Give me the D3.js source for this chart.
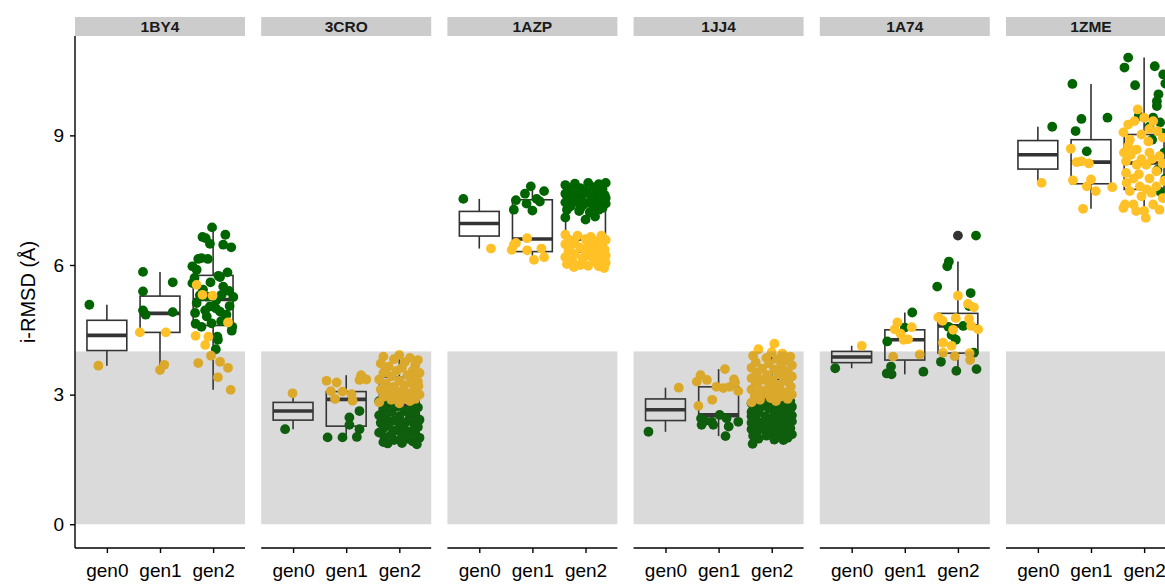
<!DOCTYPE html>
<html>
<head>
<meta charset="utf-8">
<script src="https://cdn.jsdelivr.net/npm/d3@7"></script>
<style>
  html, body { margin: 0; padding: 0; background: #ffffff; }
  svg { display: block; font-family: "Liberation Sans", Arial, Helvetica, sans-serif; }
</style>
</head>
<body>
<svg id="chart" width="1165" height="585"></svg>
<script>
// ---- data ---------------------------------------------------------------
const panels = ["1BY4", "3CRO", "1AZP", "1JJ4", "1A74", "1ZME"];
const generations = ["gen0", "gen1", "gen2"];
const yTicks = [0, 3, 6, 9];
const successCutoff = 4;   // i-RMSD below this is shaded

// box summaries per generation: [lower whisker, q1, median, q3, upper whisker]
const box1BY4 = [[3.67, 4.02, 4.37, 4.72, 5.08], [3.57, 4.44, 4.88, 5.28, 5.84], [3.11, 4.60, 5.20, 5.76, 6.87]];
const box3CRO = [[2.20, 2.41, 2.62, 2.82, 3.03], [2.01, 2.27, 2.89, 3.07, 3.45], [1.85, 2.35, 2.75, 3.40, 3.92]];
const box1AZP = [[6.38, 6.67, 6.96, 7.24, 7.53], [6.12, 6.31, 6.60, 7.51, 7.82], [5.93, 6.30, 6.60, 7.65, 7.90]];
const box1JJ4 = [[2.14, 2.40, 2.65, 2.90, 3.16], [2.04, 2.49, 2.53, 3.18, 3.59], [1.86, 2.35, 2.75, 3.35, 4.18]];
const box1A74 = [[3.61, 3.74, 3.87, 4.00, 4.13], [3.47, 3.80, 4.27, 4.50, 4.90], [3.55, 3.96, 4.59, 4.88, 6.08]];
const box1ZME = [[7.90, 8.22, 8.55, 8.88, 9.20], [7.30, 7.88, 8.38, 8.90, 10.19], [7.09, 7.75, 8.36, 9.02, 10.80]];

// box-plot outliers: [generation index, value]
const out1BY4 = [];
const out3CRO = [];
const out1AZP = [];
const out1JJ4 = [];
const out1A74 = [[2, 6.68]];
const out1ZME = [];

// individual runs per generation: [horizontal jitter (fraction of a step), i-RMSD]
const green1BY4 = [
  [[-0.33, 5.08]],
  [[-0.32, 5.84], [-0.32, 5.39], [0.24, 5.60], [-0.32, 4.95], [-0.27, 4.85], [0.24, 4.91]],
  [[-0.02, 6.87], [-0.20, 6.65], [-0.14, 6.62], [-0.06, 6.49], [0.23, 6.70], [0.19, 6.47], [0.34, 6.41],
   [-0.28, 6.14], [-0.22, 6.16], [-0.10, 6.14], [-0.39, 5.97], [-0.31, 5.89], [0.27, 5.83], [0.13, 5.72],
   [-0.39, 5.58], [0.19, 5.50], [-0.19, 5.43], [0.38, 5.26], [0.06, 5.19], [-0.31, 5.12], [-0.06, 5.04],
   [0.31, 5.05], [0.13, 4.92], [-0.34, 4.89], [-0.12, 4.81], [0.22, 4.73], [-0.33, 4.64], [-0.22, 4.57],
   [-0.03, 4.65], [0.36, 4.57], [0.35, 4.48], [0.08, 4.34], [0.09, 4.27], [0.05, 4.05], [0.16, 5.31],
   [-0.12, 5.27], [0.10, 5.75], [-0.05, 5.60], [0.30, 5.40], [-0.25, 5.30], [0.05, 5.00], [0.25, 4.85],
   [-0.15, 4.95], [0.15, 4.70], [-0.35, 5.70]]
];
const gold1BY4 = [
  [[-0.16, 3.67]],
  [[-0.38, 4.44], [0.11, 4.44], [0.08, 3.69], [0.00, 3.57]],
  [[-0.31, 5.54], [-0.20, 5.31], [-0.01, 5.29], [0.28, 4.67], [-0.33, 4.36], [-0.09, 4.34], [-0.15, 4.15],
   [-0.04, 3.90], [-0.28, 3.73], [0.13, 3.76], [0.28, 3.62], [0.09, 3.40], [0.33, 3.11]]
];

const green3CRO = [
  [[-0.15, 2.20]],
  [[0.25, 2.62], [0.06, 2.47], [0.06, 2.30], [0.25, 2.20], [0.20, 2.02], [-0.35, 2.01], [-0.07, 2.01]],
  [[-0.38, 2.85], [-0.20, 2.80], [0.25, 2.75], [-0.05, 2.72], [0.35, 2.70], [-0.30, 2.65], [0.10, 2.62],
   [-0.15, 2.60], [0.30, 2.55], [-0.38, 2.52], [0.00, 2.50], [0.20, 2.48], [-0.25, 2.45], [0.38, 2.42],
   [-0.10, 2.40], [0.15, 2.38], [-0.35, 2.35], [0.28, 2.32], [0.05, 2.30], [-0.20, 2.28], [0.35, 2.25],
   [-0.30, 2.22], [0.10, 2.20], [-0.05, 2.18], [0.22, 2.15], [-0.38, 2.12], [0.30, 2.10], [-0.15, 2.08],
   [0.05, 2.05], [-0.28, 2.02], [0.38, 2.00], [0.15, 1.98], [-0.10, 1.95], [0.25, 1.92], [-0.30, 1.90],
   [0.05, 1.88], [0.33, 1.85], [-0.22, 1.87], [0.00, 2.35], [0.20, 2.60]]
];
const gold3CRO = [
  [[-0.01, 3.03]],
  [[-0.37, 3.32], [-0.18, 3.28], [-0.29, 3.08], [-0.07, 3.07], [-0.21, 2.90], [0.10, 3.01], [0.12, 2.86],
   [0.28, 3.45], [0.25, 3.34], [0.38, 3.35]],
  [[-0.30, 3.88], [0.00, 3.92], [0.20, 3.85], [-0.10, 3.82], [0.35, 3.80], [-0.35, 3.72], [0.10, 3.75],
   [0.30, 3.68], [-0.20, 3.65], [0.05, 3.62], [-0.05, 3.55], [0.25, 3.55], [0.38, 3.50], [-0.30, 3.50],
   [0.15, 3.45], [-0.15, 3.42], [0.32, 3.38], [-0.38, 3.35], [0.00, 3.32], [0.22, 3.28], [-0.25, 3.25],
   [0.10, 3.22], [0.36, 3.20], [-0.10, 3.18], [-0.35, 3.12], [0.28, 3.12], [0.05, 3.08], [-0.20, 3.05],
   [0.18, 3.02], [0.38, 3.00], [-0.05, 2.98], [-0.30, 2.95], [0.10, 2.92], [0.30, 2.90], [-0.15, 2.88],
   [0.20, 2.85], [-0.38, 2.82], [0.00, 2.80], [0.35, 3.30], [-0.25, 3.60]]
];

const green1AZP = [
  [[-0.30, 7.53]],
  [[-0.03, 7.82], [0.22, 7.71], [-0.14, 7.65], [-0.31, 7.50], [0.08, 7.53], [-0.11, 7.42], [-0.35, 7.28],
   [0.00, 7.26], [0.14, 7.47]],
  [[-0.38, 7.85], [-0.20, 7.88], [0.05, 7.90], [0.25, 7.87], [0.38, 7.90], [-0.30, 7.75], [-0.10, 7.78],
   [0.15, 7.80], [0.32, 7.76], [-0.38, 7.65], [-0.22, 7.68], [0.00, 7.70], [0.20, 7.66], [0.36, 7.62],
   [-0.30, 7.55], [-0.08, 7.58], [0.12, 7.55], [0.28, 7.52], [-0.38, 7.45], [-0.18, 7.47], [0.05, 7.44],
   [0.22, 7.46], [0.38, 7.42], [-0.28, 7.36], [-0.05, 7.38], [0.15, 7.35], [0.32, 7.32], [-0.35, 7.28],
   [-0.12, 7.25], [0.08, 7.22], [0.25, 7.28], [-0.38, 7.10], [0.18, 7.12], [-0.20, 7.50], [0.10, 7.60],
   [0.30, 7.70], [-0.10, 7.30], [0.38, 7.55], [0.00, 7.05]]
];
const gold1AZP = [
  [[0.22, 6.38]],
  [[-0.10, 6.62], [-0.31, 6.51], [-0.39, 6.35], [-0.10, 6.34], [0.17, 6.38], [0.03, 6.12], [0.22, 6.18],
   [-0.35, 6.47]],
  [[-0.38, 6.70], [-0.15, 6.68], [0.10, 6.65], [0.30, 6.68], [-0.30, 6.58], [0.00, 6.60], [0.20, 6.55],
   [0.38, 6.58], [-0.38, 6.48], [-0.20, 6.50], [0.05, 6.45], [0.28, 6.47], [-0.10, 6.40], [0.15, 6.38],
   [0.36, 6.36], [-0.32, 6.33], [0.00, 6.30], [0.22, 6.28], [-0.20, 6.25], [0.38, 6.22], [-0.38, 6.18],
   [0.10, 6.20], [-0.05, 6.15], [0.30, 6.12], [-0.25, 6.10], [0.18, 6.08], [0.38, 6.05], [-0.35, 6.02],
   [-0.10, 6.00], [0.05, 5.98], [0.25, 5.97], [-0.22, 5.95], [0.35, 5.93], [0.12, 6.30], [-0.30, 6.40]]
];

const green1JJ4 = [
  [[-0.32, 2.14]],
  [[-0.33, 2.45], [-0.26, 2.39], [-0.10, 2.30], [0.02, 2.53], [0.15, 2.45], [0.19, 2.26], [0.37, 2.37],
   [-0.32, 2.30], [0.13, 2.04], [-0.13, 2.37]],
  [[-0.30, 2.90], [-0.10, 2.88], [0.10, 2.85], [0.30, 2.82], [-0.38, 2.80], [0.00, 2.78], [0.20, 2.75],
   [0.38, 2.72], [-0.20, 2.72], [-0.35, 2.65], [-0.05, 2.68], [0.12, 2.65], [0.30, 2.62], [-0.25, 2.58],
   [0.05, 2.58], [0.22, 2.55], [0.38, 2.52], [-0.38, 2.50], [-0.12, 2.50], [0.10, 2.48], [0.30, 2.45],
   [-0.30, 2.42], [-0.02, 2.42], [0.18, 2.40], [0.38, 2.38], [-0.38, 2.35], [-0.18, 2.35], [0.05, 2.32],
   [0.25, 2.30], [-0.30, 2.28], [-0.08, 2.27], [0.15, 2.25], [0.35, 2.22], [-0.38, 2.20], [-0.15, 2.20],
   [0.05, 2.18], [0.28, 2.15], [-0.28, 2.12], [0.00, 2.12], [0.18, 2.10], [0.38, 2.08], [-0.35, 2.05],
   [-0.10, 2.05], [0.10, 2.02], [0.30, 2.00], [-0.25, 1.98], [0.05, 1.96], [0.22, 1.95], [-0.38, 2.60],
   [0.35, 2.85], [-0.05, 2.22], [-0.36, 1.86]]
];
const gold1JJ4 = [
  [[0.25, 3.16]],
  [[0.12, 3.59], [-0.34, 3.45], [-0.41, 3.30], [-0.22, 3.34], [0.29, 3.35], [-0.04, 3.18], [0.09, 3.15],
   [0.21, 3.18], [0.37, 3.08], [0.31, 3.28], [-0.12, 2.88], [-0.38, 2.74]],
  [[0.05, 4.18], [-0.25, 4.05], [0.00, 3.98], [0.20, 3.95], [-0.35, 3.90], [0.35, 3.88], [-0.10, 3.85],
   [0.10, 3.82], [0.28, 3.80], [-0.30, 3.75], [-0.05, 3.72], [0.18, 3.70], [0.38, 3.68], [-0.38, 3.62],
   [-0.18, 3.60], [0.05, 3.58], [0.30, 3.55], [-0.28, 3.50], [0.12, 3.48], [-0.08, 3.45], [0.38, 3.42],
   [0.22, 3.40], [-0.38, 3.38], [-0.15, 3.35], [0.02, 3.32], [0.30, 3.30], [-0.30, 3.25], [0.15, 3.22],
   [-0.05, 3.20], [0.36, 3.18], [-0.38, 3.12], [-0.20, 3.10], [0.08, 3.08], [0.25, 3.05], [-0.10, 3.02],
   [0.38, 3.00], [-0.32, 2.98], [0.15, 2.95], [-0.02, 2.92], [0.30, 2.90], [-0.22, 2.88], [0.08, 2.85],
   [-0.38, 2.82], [0.20, 3.60], [-0.25, 3.30], [0.00, 3.15]]
];

const green1A74 = [
  [[-0.31, 3.61]],
  [[0.14, 4.90], [0.00, 4.55], [-0.33, 4.23], [-0.26, 3.65], [-0.34, 3.49], [-0.25, 3.47], [0.35, 3.53]],
  [[0.34, 6.68], [-0.17, 6.08], [-0.20, 5.97], [-0.39, 5.50], [0.24, 5.35], [0.21, 5.05], [0.10, 4.59],
   [-0.12, 4.38], [-0.04, 4.27], [-0.18, 4.57], [0.30, 3.97], [-0.32, 3.76], [-0.03, 3.55], [0.35, 3.59]]
];
const gold1A74 = [
  [[0.19, 4.13]],
  [[-0.14, 4.67], [0.13, 4.56], [-0.19, 4.51], [-0.08, 4.41], [-0.02, 4.27], [0.06, 4.28], [-0.22, 3.88],
   [0.28, 3.93]],
  [[0.00, 5.29], [0.19, 5.10], [0.30, 5.02], [-0.37, 4.79], [-0.29, 4.71], [-0.04, 4.77], [0.21, 4.75],
   [0.25, 4.59], [0.38, 4.51], [-0.09, 4.50], [-0.28, 4.20], [-0.12, 4.13], [-0.28, 3.97], [-0.06, 3.89],
   [0.22, 3.96], [0.23, 3.80]]
];

const green1ZME = [
  [[0.27, 9.20]],
  [[-0.35, 10.19], [-0.18, 9.38], [0.31, 9.41], [-0.29, 9.10], [-0.08, 8.63]],
  [[-0.30, 10.80], [-0.37, 10.57], [0.36, 10.41], [-0.17, 10.16], [0.27, 9.95], [0.24, 9.79], [0.24, 9.68],
   [0.17, 9.41], [0.30, 9.30], [0.10, 9.20], [0.35, 9.05], [-0.10, 9.45], [0.20, 10.60], [0.40, 10.20],
   [0.15, 8.90], [0.38, 8.60], [0.25, 8.20], [0.40, 8.00], [0.30, 7.70]]
];
const gold1ZME = [
  [[0.07, 7.90]],
  [[-0.38, 8.69], [-0.27, 8.38], [-0.18, 8.40], [-0.04, 8.35], [-0.34, 7.96], [0.00, 7.98], [-0.08, 7.82],
   [0.09, 7.71], [0.40, 7.80], [-0.15, 7.30]],
  [[-0.12, 9.60], [-0.18, 9.33], [0.00, 9.41], [0.17, 9.33], [-0.39, 9.07], [-0.05, 9.02], [-0.27, 8.90],
   [0.08, 8.86], [-0.14, 8.67], [-0.34, 8.40], [-0.14, 8.32], [0.04, 8.32], [-0.34, 8.13], [0.23, 8.17],
   [-0.33, 7.90], [-0.08, 7.82], [-0.27, 7.71], [0.14, 7.67], [-0.05, 7.59], [-0.36, 7.40], [-0.20, 7.40],
   [0.17, 7.40], [-0.39, 7.32], [0.03, 7.09], [0.29, 7.28], [0.29, 8.52], [0.23, 7.82], [-0.25, 8.55],
   [0.10, 8.60], [-0.30, 8.75], [0.35, 8.95], [0.10, 9.15], [-0.10, 8.10], [0.10, 8.00], [-0.20, 8.00],
   [0.35, 7.55], [-0.15, 7.25], [0.05, 7.75], [0.25, 9.10], [-0.30, 9.25], [0.35, 8.35], [0.15, 8.45],
   [-0.05, 8.45], [0.38, 7.95], [0.00, 7.25], [-0.38, 8.60]]
];

// ---- assemble per-panel records ----------------------------------------
const boxes = [box1BY4, box3CRO, box1AZP, box1JJ4, box1A74, box1ZME];
const outliers = [out1BY4, out3CRO, out1AZP, out1JJ4, out1A74, out1ZME];
const greens = [green1BY4, green3CRO, green1AZP, green1JJ4, green1A74, green1ZME];
const golds = [gold1BY4, gold3CRO, gold1AZP, gold1JJ4, gold1A74, gold1ZME];

const facetRows = panels.map((id, i) => ({
  id,
  boxes: boxes[i].map((s, g) => ({ gen: generations[g], lo: s[0], q1: s[1], med: s[2], q3: s[3], hi: s[4] })),
  outliers: outliers[i].map(([g, v]) => ({ gen: generations[g], v })),
  points: [
    ...greens[i].flatMap((arr, g) => arr.map(([j, v]) => ({ gen: generations[g], j, v, fill: "#006400" }))),
    ...golds[i].flatMap((arr, g) => arr.map(([j, v]) => ({ gen: generations[g], j, v, fill: "#FFC125" })))
  ]
}));

// ---- layout ---------------------------------------------------------------
const svg = d3.select("#chart");
const plotTop = 36, plotBottom = 548, stripTop = 17;
const panelWidth = 170, panelGap = 16.2;

const fx = d3.scaleBand()
  .domain(panels)
  .range([75, 75 + panels.length * panelWidth + (panels.length - 1) * panelGap])
  .paddingInner(panelGap / (panelWidth + panelGap))
  .paddingOuter(0);

const y = d3.scaleLinear().domain([-0.55, 11.3]).range([plotBottom, plotTop]);

const x = d3.scalePoint().domain(generations).range([0, fx.bandwidth()]).padding(0.6);
const step = x.step();
const boxW = step * 0.75;
const pointR = 4.9;
const lineCol = "#333333";
const tickFont = 19;

const facets = svg.selectAll("g.facet")
  .data(facetRows)
  .join("g")
  .attr("class", "facet")
  .attr("transform", d => `translate(${fx(d.id)},0)`);

// strip header
facets.append("rect")
  .attr("x", 0).attr("y", stripTop)
  .attr("width", fx.bandwidth()).attr("height", plotTop - stripTop)
  .attr("fill", "#cccccc");
facets.append("text")
  .attr("x", fx.bandwidth() / 2).attr("y", (stripTop + plotTop) / 2)
  .attr("dy", "0.36em")
  .attr("text-anchor", "middle")
  .attr("font-size", 15.5).attr("font-weight", "bold").attr("fill", "#1a1a1a")
  .text(d => d.id);

// box plots
const boxG = facets.selectAll("g.box")
  .data(d => d.boxes)
  .join("g")
  .attr("class", "box")
  .attr("transform", d => `translate(${x(d.gen)},0)`);

boxG.append("line")
  .attr("x1", 0).attr("x2", 0)
  .attr("y1", d => y(d.q3)).attr("y2", d => y(d.hi))
  .attr("stroke", lineCol).attr("stroke-width", 1.6);
boxG.append("line")
  .attr("x1", 0).attr("x2", 0)
  .attr("y1", d => y(d.q1)).attr("y2", d => y(d.lo))
  .attr("stroke", lineCol).attr("stroke-width", 1.6);
boxG.append("rect")
  .attr("x", -boxW / 2).attr("width", boxW)
  .attr("y", d => y(d.q3)).attr("height", d => y(d.q1) - y(d.q3))
  .attr("fill", "#ffffff").attr("stroke", lineCol).attr("stroke-width", 1.6);
boxG.append("line")
  .attr("x1", -boxW / 2).attr("x2", boxW / 2)
  .attr("y1", d => y(d.med)).attr("y2", d => y(d.med))
  .attr("stroke", lineCol).attr("stroke-width", 3.6);

// outliers of the box plots
facets.selectAll("circle.outlier")
  .data(d => d.outliers)
  .join("circle")
  .attr("class", "outlier")
  .attr("cx", d => x(d.gen)).attr("cy", d => y(d.v))
  .attr("r", pointR).attr("fill", lineCol);

// jittered runs
facets.selectAll("circle.run")
  .data(d => d.points)
  .join("circle")
  .attr("class", "run")
  .attr("cx", d => x(d.gen) + d.j * step)
  .attr("cy", d => y(d.v))
  .attr("r", pointR)
  .attr("fill", d => d.fill);

// translucent shading of the sub-cutoff region, laid over the marks
facets.append("rect")
  .attr("x", 0).attr("width", fx.bandwidth())
  .attr("y", y(successCutoff)).attr("height", y(0) - y(successCutoff))
  .attr("fill", "#444444").attr("fill-opacity", 0.2);

// bottom axis of every panel
facets.append("g")
  .attr("transform", `translate(0,${plotBottom})`)
  .call(d3.axisBottom(x).tickSize(5).tickPadding(11))
  .call(g => g.select(".domain").attr("stroke", "#000").attr("stroke-width", 1.4)
    .attr("d", `M0,0H${fx.bandwidth()}`))
  .call(g => g.selectAll(".tick line").attr("stroke", "#000").attr("stroke-width", 1.4))
  .call(g => g.selectAll(".tick text").attr("font-size", tickFont).attr("fill", "#000")
    .attr("font-family", "Liberation Sans, Arial, sans-serif"));

// left axis on the first panel
svg.append("g")
  .attr("transform", `translate(${fx(panels[0])},0)`)
  .call(d3.axisLeft(y).tickValues(yTicks).tickSize(5).tickPadding(6))
  .call(g => g.select(".domain").attr("stroke", "#000").attr("stroke-width", 1.4)
    .attr("d", `M0,${plotTop}V${plotBottom}`))
  .call(g => g.selectAll(".tick line").attr("stroke", "#000").attr("stroke-width", 1.4))
  .call(g => g.selectAll(".tick text").attr("font-size", tickFont).attr("fill", "#000")
    .attr("font-family", "Liberation Sans, Arial, sans-serif"));

// y-axis title
svg.append("text")
  .attr("transform", `translate(28,${(plotTop + plotBottom) / 2}) rotate(-90)`)
  .attr("text-anchor", "middle")
  .attr("dy", "0.35em")
  .attr("font-size", 20).attr("fill", "#000")
  .text("i-RMSD (Å)");
</script>
</body>
</html>
